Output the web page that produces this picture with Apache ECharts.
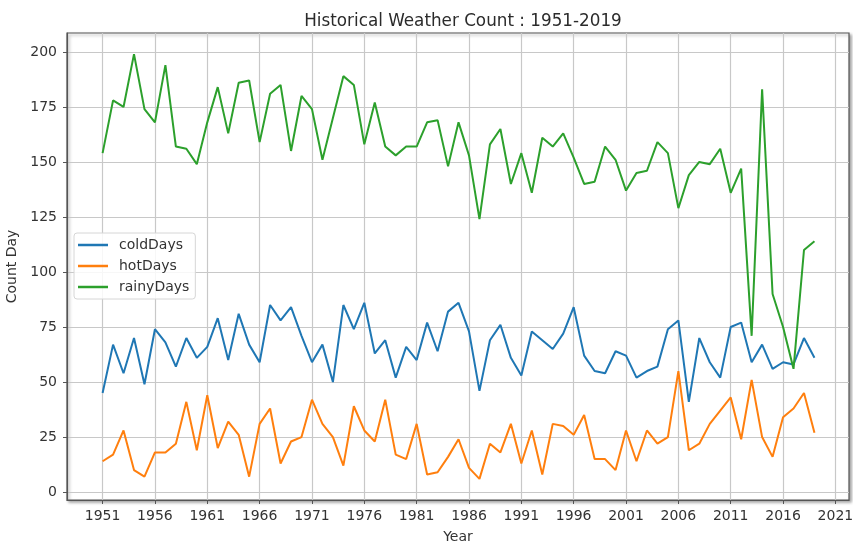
<!DOCTYPE html>
<html>
<head>
<meta charset="utf-8">
<script src="https://cdn.jsdelivr.net/npm/echarts@6/dist/echarts.min.js"></script>
<style>
  html, body { margin: 0; padding: 0; background: #fff; }
  #chart { width: 853px; height: 543px; }
</style>
</head>
<body>
<div id="chart"></div>
<script>
// years 1951 - 2019
const years = []
for (let y = 1951; y <= 2019; y++) years.push(y)

const coldDays = [
  45, 67, 54, 70, 49, 74, 68, 57, 70, 61,
  66, 79, 60, 81, 67, 59, 85, 78, 84, 71,
  59, 67, 50, 85, 74, 86, 63, 69, 52, 66,
  60, 77, 64, 82, 86, 73, 46, 69, 76, 61,
  53, 73, 69, 65, 72, 84, 62, 55, 54, 64,
  62, 52, 55, 57, 74, 78, 41, 70, 59, 52,
  75, 77, 59, 67, 56, 59, 58, 70, 61
]
const hotDays = [
  14, 17, 28, 10, 7, 18, 18, 22, 41, 19,
  44, 20, 32, 26, 7, 31, 38, 13, 23, 25,
  42, 31, 25, 12, 39, 28, 23, 42, 17, 15,
  31, 8, 9, 16, 24, 11, 6, 22, 18, 31,
  13, 28, 8, 31, 30, 26, 35, 15, 15, 10,
  28, 14, 28, 22, 25, 55, 19, 22, 31, 37,
  43, 24, 51, 25, 16, 34, 38, 45, 27
]
const rainyDays = [
  154, 178, 175, 199, 174, 168, 194, 157, 156, 149,
  168, 184, 163, 186, 187, 159, 181, 185, 155, 180,
  174, 151, 170, 189, 185, 158, 177, 157, 153, 157,
  157, 168, 169, 148, 168, 153, 124, 158, 165, 140,
  154, 136, 161, 157, 163, 152, 140, 141, 157, 151,
  137, 145, 146, 159, 154, 129, 144, 150, 149, 156,
  136, 147, 71, 183, 90, 75, 56, 110, 114
]

const xTicks = [1951, 1956, 1961, 1966, 1971, 1976, 1981, 1986, 1991, 1996, 2001, 2006, 2011, 2016, 2021]
const yTicks = [0, 25, 50, 75, 100, 125, 150, 175, 200]

const seriesList = [
  { name: 'coldDays', data: coldDays, color: '#1f77b4' },
  { name: 'hotDays', data: hotDays, color: '#ff7f0e' },
  { name: 'rainyDays', data: rainyDays, color: '#2ca02c' }
]

const chart = echarts.init(document.getElementById('chart'))
const font = 'DejaVu Sans'
const gridLine = { show: true, lineStyle: { color: '#c8c8c8', width: 1.2 } }

const options = {
  animation: false,
  backgroundColor: '#fff',
  title: {
    text: 'Historical Weather Count : 1951-2019',
    left: 458,
    textAlign: 'center',
    top: 8,
    textStyle: { fontFamily: font, fontSize: 16.8, fontWeight: 'normal', color: '#2b2b2b' }
  },
  legend: {
    orient: 'vertical',
    left: 74,
    top: 233,
    padding: [5, 6, 5, 4],
    itemGap: 7,
    itemWidth: 30,
    itemHeight: 2.5,
    icon: 'rect',
    borderColor: '#d6d6d6',
    borderWidth: 1,
    borderRadius: 3,
    backgroundColor: 'rgba(255,255,255,0.85)',
    textStyle: { fontFamily: font, fontSize: 14, lineHeight: 14, color: '#333', padding: [0, 0, 0, 6] },
    data: seriesList.map((s) => s.name)
  },
  grid: {
    left: 67,
    right: 4,
    top: 33,
    bottom: 43,
    outerBoundsMode: 'none',
    show: true,
    backgroundColor: '#fff',
    borderColor: '#555',
    borderWidth: 1.2,
    shadowColor: 'rgba(0,0,0,0.35)',
    shadowBlur: 3,
    shadowOffsetX: 2,
    shadowOffsetY: 2
  },
  xAxis: {
    type: 'value',
    min: 1947.6,
    max: 2022.3,
    name: 'Year',
    nameLocation: 'middle',
    nameGap: 30,
    nameTextStyle: { fontFamily: font, fontSize: 14, color: '#333' },
    axisLine: { show: true, onZero: false, lineStyle: { color: '#555', width: 1.2 } },
    axisTick: { show: true, length: 4, customValues: xTicks, lineStyle: { color: '#555' } },
    axisLabel: {
      customValues: xTicks,
      margin: 9,
      fontFamily: font,
      fontSize: 14,
      color: '#333',
      formatter: (v) => String(v)
    },
    splitLine: gridLine
  },
  yAxis: {
    type: 'value',
    min: -3.6,
    max: 208.6,
    name: 'Count Day',
    nameLocation: 'middle',
    nameGap: 42,
    nameTextStyle: { fontFamily: font, fontSize: 14, color: '#333' },
    axisLine: { show: true, onZero: false, lineStyle: { color: '#555', width: 1.2 } },
    axisTick: { show: true, length: 4, customValues: yTicks, lineStyle: { color: '#555' } },
    axisLabel: {
      customValues: yTicks,
      margin: 10,
      fontFamily: font,
      fontSize: 14,
      color: '#333'
    },
    splitLine: gridLine
  },
  series: seriesList.map((s) => {
    return {
      name: s.name,
      type: 'line',
      symbol: 'none',
      color: s.color,
      lineStyle: { width: 2, color: s.color },
      data: s.data.map((v, i) => [years[i], v])
    }
  })
}

chart.setOption(options)
</script>
</body>
</html>
